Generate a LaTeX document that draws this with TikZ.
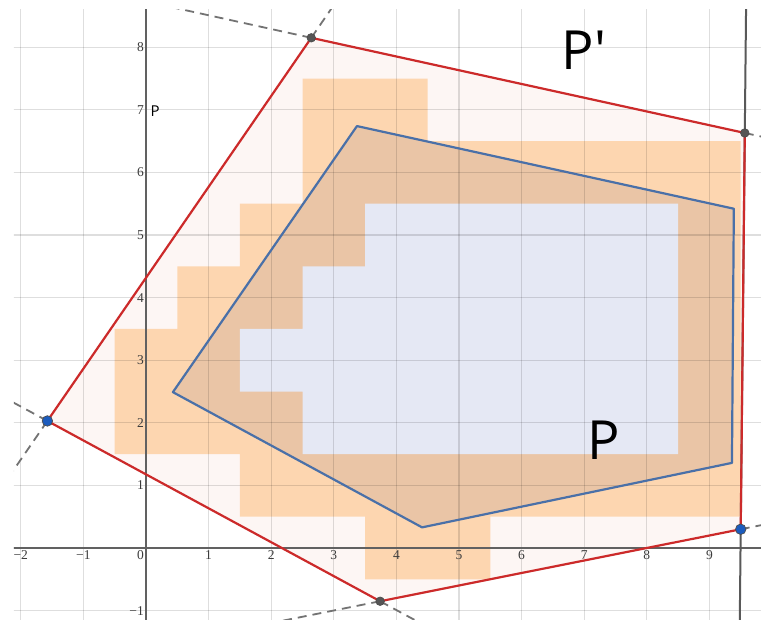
\documentclass[tikz,border=0pt]{standalone}
\usepackage{fontspec}
\setmainfont{Liberation Serif}
\newfontfamily\sansP{Open Sans}
\usetikzlibrary{calc}
\definecolor{pinkfill}{RGB}{253,246,244}
\definecolor{orangefill}{RGB}{253,214,176}
\definecolor{tanfill}{RGB}{234,197,166}
\definecolor{lavfill}{RGB}{229,232,244}
\definecolor{redline}{RGB}{204,42,42}
\definecolor{blueline}{RGB}{74,112,168}
\definecolor{bluedot}{RGB}{28,92,190}
\definecolor{graydot}{RGB}{85,85,85}
\definecolor{ticktext}{RGB}{60,60,60}
\begin{document}
\begin{tikzpicture}[x=62.6pt,y=62.6pt,
  gridline/.style={draw=black, draw opacity=0.13, line width=1.1pt},
  axisline/.style={draw=black!62, line width=2pt},
  extline/.style={draw=black!55, line width=1.8pt, dash pattern=on 9pt off 6pt},
  cdline/.style={draw=black!65, line width=2pt},
  outerpoly/.style={draw=redline, line width=2.2pt, line join=round},
  innerpoly/.style={draw=blueline, line width=2.2pt, line join=round},
  bluept/.style={circle, fill=bluedot, draw=black!70, line width=0.7pt, inner sep=0pt, minimum size=10.5pt},
  graypt/.style={circle, fill=graydot, draw=black!70, line width=0.7pt, inner sep=0pt, minimum size=8.5pt},
  ticklab/.style={font=\fontsize{13.5}{15}\selectfont, text=ticktext, inner sep=2pt},
  biglabel/.style={font=\sansP\fontsize{54}{60}\selectfont, anchor=base, inner sep=0pt}]
\useasboundingbox (-2.332,-1.134) rectangle (9.824,8.754);
\fill[white] (-2.332,-1.134) rectangle (9.824,8.754);
% named points
\coordinate (A) at (-1.575,2.03);
\coordinate (B) at (2.64,8.15);
\coordinate (C) at (9.565,6.63);
\coordinate (D) at (9.50,0.30);
\coordinate (E) at (3.74,-0.85);
\coordinate (P1) at (0.43,2.49);
\coordinate (P2) at (3.37,6.74);
\coordinate (P3) at (9.39,5.42);
\coordinate (P4) at (9.36,1.36);
\coordinate (P5) at (4.41,0.33);
\begin{scope}
\clip (-2.109,-1.134) rectangle (9.824,8.61);
% fills
\fill[pinkfill] (A) -- (B) -- (C) -- (D) -- (E) -- cycle;
\fill[orangefill] (-0.5,1.5) -- (-0.5,3.5) -- (0.5,3.5) -- (0.5,4.5) -- (1.5,4.5) -- (1.5,5.5) -- (2.5,5.5) -- (2.5,7.5) -- (4.5,7.5) -- (4.5,6.5) -- (9.5,6.5) -- (9.5,0.5) -- (5.5,0.5) -- (5.5,-0.5) -- (3.5,-0.5) -- (3.5,0.5) -- (1.5,0.5) -- (1.5,1.5) -- cycle;
\fill[tanfill] (P1) -- (P2) -- (P3) -- (P4) -- (P5) -- cycle;
\fill[lavfill] (1.5,2.5) -- (1.5,3.5) -- (2.5,3.5) -- (2.5,4.5) -- (3.5,4.5) -- (3.5,5.5) -- (8.5,5.5) -- (8.5,1.5) -- (2.5,1.5) -- (2.5,2.5) -- cycle;
% grid
\foreach \i in {-2,...,9} \draw[gridline] (\i,-1.2) -- (\i,8.7);
\foreach \j in {-1,...,8} \draw[gridline] (-2.2,\j) -- (9.9,\j);
% axes
\draw[axisline] (-2.2,0) -- (9.9,0);
\draw[axisline] (0,-1.2) -- (0,8.7);
% extension lines
\draw[extline] (B) -- ($(B)!-1.5!(A)$);
\draw[extline] (B) -- ($(B)!-1.5!(C)$);
\draw[extline] (A) -- ($(A)!-1.5!(E)$);
\draw[extline] (A) -- ($(A)!-1.5!(B)$);
\draw[extline] (E) -- ($(E)!-1.5!(D)$);
\draw[extline] (E) -- ($(E)!-1.5!(A)$);
\draw[extline] (C) -- ($(C)!-0.5!(B)$);
\draw[extline] (D) -- ($(D)!-0.5!(E)$);
\draw[cdline] ($(C)!-2!(D)$) -- ($(D)!-2!(C)$);
\end{scope}
% polygons
\draw[outerpoly] (A) -- (B) -- (C) -- (D) -- (E) -- cycle;
\draw[innerpoly] (P1) -- (P2) -- (P3) -- (P4) -- (P5) -- cycle;
% points
\node[bluept] (nA) at (A) {};
\node[bluept] (nD) at (D) {};
\node[graypt] (nB) at (B) {};
\node[graypt] (nC) at (C) {};
\node[graypt] (nE) at (E) {};
% tick labels
\foreach \i/\t in {-2/−2,-1/−1,1/1,2/2,3/3,4/4,5/5,6/6,7/7,8/8,9/9} \node[ticklab, below] (x\i) at (\i,0) {\t};
\node[ticklab, below left] (o) at (0,0) {0};
\foreach \j/\t in {-1/−1,1/1,2/2,3/3,4/4,5/5,6/6,7/7,8/8} \node[ticklab, left] (y\j) at (0,\j) {\t};
% labels
\node[biglabel] (Pprime) at (7.0,7.64) {P'};
\node[biglabel] (Plab) at (7.32,1.42) {P};
\node[font=\sansP\fontsize{15}{17}\selectfont, anchor=base west, inner sep=0pt] (psmall) at (0.07,6.9) {P};
\end{tikzpicture}
\end{document}
